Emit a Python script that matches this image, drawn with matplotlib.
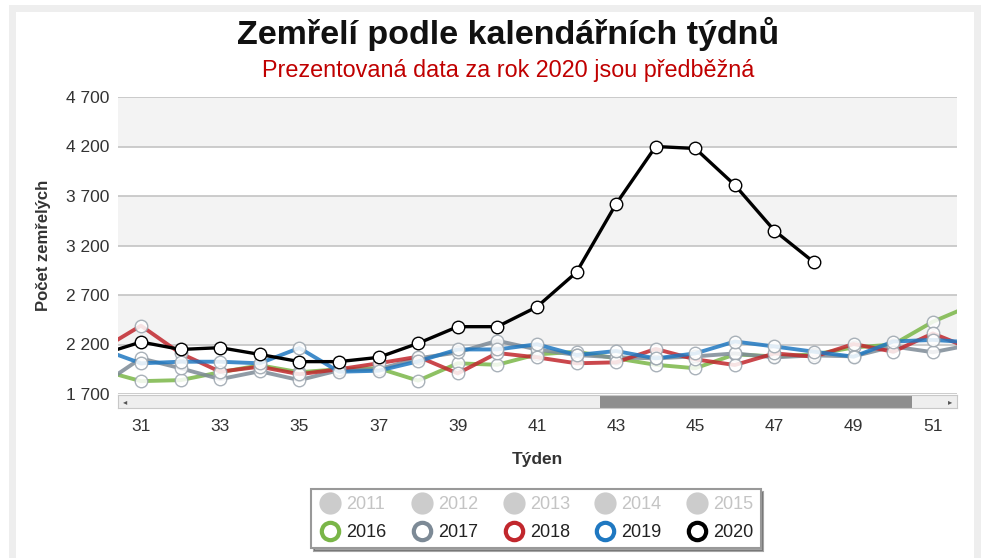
import numpy as np
import matplotlib
matplotlib.use("Agg")
import matplotlib.pyplot as plt
from matplotlib.lines import Line2D
from matplotlib.patches import Rectangle
from matplotlib.ticker import FuncFormatter

plt.rcParams['font.family'] = ['Liberation Sans', 'DejaVu Sans']

# weekly deaths, weeks 30..52 (nan = no data yet)
weeks = list(range(30, 53))
deaths_2016 = [1940, 1830, 1840, 1920, 1990, 1920, 1950, 1960, 1835, 2010, 1995, 2100,
               2127, 2060, 1995, 1960, 2100, 2080, 2100, 2170, 2200, 2430, 2600]
deaths_2017 = [1790, 2060, 1960, 1850, 1930, 1840, 1940, 1950, 2060, 2120, 2238, 2150,
               2094, 2070, 2060, 2080, 2110, 2070, 2090, 2080, 2180, 2122, 2200]
deaths_2018 = [2150, 2390, 2110, 1925, 1976, 1900, 1950, 2010, 2077, 1908, 2114, 2070,
               2010, 2020, 2155, 2050, 1993, 2110, 2077, 2205, 2127, 2312, 2150]
deaths_2019 = [2155, 2010, 2026, 2026, 2010, 2165, 1925, 1935, 2030, 2150, 2150, 2202,
               2094, 2134, 2060, 2110, 2230, 2180, 2127, 2077, 2230, 2247, 2220]
deaths_2020 = [2100, 2225, 2150, 2168, 2100, 2027, 2027, 2070, 2212, 2380, 2380, 2580,
               2930, 3620, 4200, 4180, 3810, 3350, 3030, np.nan, np.nan, np.nan, np.nan]

shown_years = ['2016', '2017', '2018', '2019', '2020']
hidden_years = ['2011', '2012', '2013', '2014', '2015']
year_colors = ['#7ab648', '#7d8a96', '#c1272d', '#1f78c1', '#000000']
series = [deaths_2016, deaths_2017, deaths_2018, deaths_2019, deaths_2020]
y_ticks = list(range(1700, 4701, 500))
x_ticks = list(range(31, 52, 2))

fig = plt.figure(figsize=(9.91, 5.58), dpi=100)
fig.patch.set_facecolor('white')
fig.patches.append(Rectangle((0.012, -0.01), 0.974, 0.995, transform=fig.transFigure,
                             fill=False, edgecolor='#eeeeee', linewidth=5, zorder=0))

ax = fig.add_axes([118 / 991, 1 - 394 / 558, 839 / 991, 297 / 558])
ax.set_xlim(30.42, 51.61)
ax.set_ylim(1700, 4700)

# alternating bands + grid
for i in range(len(y_ticks) - 1):
    if i % 2 == 1:
        ax.axhspan(y_ticks[i], y_ticks[i + 1], color='#f3f3f3', zorder=0, lw=0)
ax.set_yticks(y_ticks)
ax.grid(axis='y', color='#c4c4c4', linewidth=1.2, zorder=1)
ax.set_axisbelow(True)

for ys, col, yr in zip(series, year_colors, shown_years):
    is_now = yr == '2020'
    ax.plot(weeks, ys, color=col, lw=2.4 if is_now else 2.8,
            alpha=1.0 if is_now else 0.85, marker='o', markersize=9,
            markerfacecolor='white', markeredgecolor=col if is_now else '#9aa4ad',
            markeredgewidth=1.0, zorder=5 if is_now else 3, clip_on=True)

ax.set_xticks(x_ticks)
ax.yaxis.set_major_formatter(FuncFormatter(lambda v, p: f"{v:,.0f}".replace(",", " ")))
ax.tick_params(axis='both', length=0, labelsize=12.5, colors='#333333')
ax.tick_params(axis='x', pad=18)
ax.tick_params(axis='y', pad=6)
for s in ax.spines.values():
    s.set_visible(False)
ax.set_xlabel('Týden', fontsize=12.5, fontweight='bold', color='#333333', labelpad=13)
ax.set_ylabel('Počet zemřelých', fontsize=12, fontweight='bold', color='#333333', labelpad=11)

# scrollbar under the plot
sb = fig.add_axes([118 / 991, 1 - 408 / 558, 839 / 991, 13 / 558])
sb.set_xlim(0, 1)
sb.set_ylim(0, 1)
sb.set_facecolor('#eeeeee')
for s in sb.spines.values():
    s.set_color('#c8c8c8')
sb.set_xticks([])
sb.set_yticks([])
sb.add_patch(Rectangle(((600 - 118) / 839, 0), (912 - 600) / 839, 1, color='#8e8e8e', lw=0))
sb.text(0.006, 0.5, '◂', fontsize=6, color='#555555', va='center', ha='left',
        family='DejaVu Sans')
sb.text(0.994, 0.5, '▸', fontsize=6, color='#555555', va='center', ha='right',
        family='DejaVu Sans')

fig.text(0.513, 1 - 34 / 558, 'Zemřelí podle kalendářních týdnů', ha='center', va='center',
         fontsize=24.5, fontweight='bold', color='#111111')
fig.text(0.513, 1 - 70 / 558, 'Prezentovaná data za rok 2020 jsou předběžná', ha='center',
         va='center', fontsize=16.8, color='#c00000')

# legend: column-major order so hidden years sit on the top row
handles, labels = [], []
for hy, sy, col in zip(hidden_years, shown_years, year_colors):
    handles.append(Line2D([], [], ls='none', marker='o', markersize=15,
                          markerfacecolor='#cccccc', markeredgecolor='#cccccc'))
    labels.append(hy)
    handles.append(Line2D([], [], ls='none', marker='o', markersize=12.5,
                          markerfacecolor='white', markeredgecolor=col, markeredgewidth=3))
    labels.append(sy)
leg = fig.legend(handles, labels, ncol=5, loc='center', bbox_to_anchor=(536 / 991, 1 - 518.5 / 558),
                 fontsize=13, frameon=True, fancybox=False, shadow=True,
                 handletextpad=0.25, columnspacing=1.3, handlelength=1.3, labelspacing=0.6,
                 borderpad=0.4)
leg.get_frame().set_edgecolor('#999999')
leg.get_frame().set_linewidth(1.5)
for t in leg.get_texts():
    t.set_color('#c4c4c4' if t.get_text() in hidden_years else '#222222')

fig.savefig('out.png', dpi=100)
